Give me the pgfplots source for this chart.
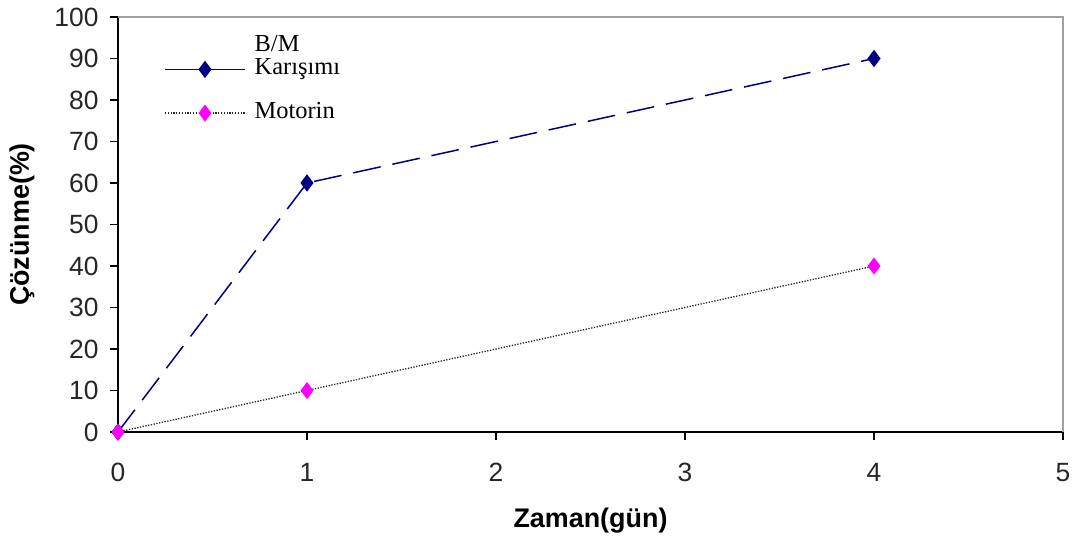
\documentclass[border=0pt]{standalone}
\usepackage{fontspec}
\setmainfont{Liberation Serif}
\setsansfont{Liberation Sans}
\usepackage{pgfplots}
\pgfplotsset{compat=1.18}
\definecolor{navyblue}{RGB}{0,0,128}
\definecolor{fuchsia}{RGB}{255,0,255}
\definecolor{framegray}{RGB}{160,160,160}

\begin{document}
\begin{tikzpicture}
\begin{axis}[
  scale only axis, width=945bp, height=415bp,
  xmin=0, xmax=5, ymin=0, ymax=100,
  xtick={0,1,2,3,4,5}, ytick={0,10,...,100},
  axis x line*=bottom, axis y line*=left,
  axis line style={black, line width=1.5bp},
  tick align=outside, major tick length=8bp,
  tick style={black, line width=1.2bp},
  /pgf/number format/assume math mode=true,
  every tick label/.append style={font=\sffamily\fontsize{26.5}{30}\selectfont, text=black!85},
  xticklabel style={yshift=-20bp},
  yticklabel style={xshift=-8bp},
  xlabel={Zaman(gün)}, ylabel={Çözünme(\%)},
  label style={font=\sffamily\bfseries\fontsize{27}{32}\selectfont},
  xlabel style={at={(axis description cs:0.5,-0.2145)}, anchor=center},
  ylabel style={at={(axis description cs:-0.1016,0.5)}, anchor=center},
  clip=false,
  legend style={at={(axis description cs:0.0487,0.96)}, anchor=north west,
    draw=none, fill=none, inner sep=0pt,
    font=\rmfamily\fontsize{24.5}{22}\selectfont,
    cells={anchor=base west}, row sep=22bp, column sep=7bp},
  legend image code/.code={\draw[mark repeat=2,mark phase=2,#1] plot coordinates {(0bp,5bp) (40bp,5bp) (80bp,5bp)};},
]
% grey frame on the top and right sides
\draw[framegray, line width=2bp] (rel axis cs:0,1) -- (rel axis cs:1,1) -- (rel axis cs:1,0);

\addlegendimage{navyblue, solid, line width=1.5bp, mark=diamond*, mark size=7.5bp}
\addlegendentry{\begin{tabular}[b]{@{}l@{}}B/M\\Karışımı\end{tabular}}
\addlegendimage{black!85, line width=1.3bp, dash pattern=on 1.3bp off 1.5bp, mark=diamond*, mark size=7.5bp, mark options={solid, draw=fuchsia, fill=fuchsia}}
\addlegendentry{Motorin}

% B/M mixture
\addplot[navyblue, line width=1.5bp, dash pattern=on 28bp off 12bp,
  mark=diamond*, mark size=7.5bp, mark options={solid}, forget plot]
  coordinates {(0,0) (1,60) (4,90)};
% diesel
\addplot[black!85, line width=1.3bp, dash pattern=on 1.3bp off 1.5bp,
  mark=diamond*, mark size=7.5bp, mark options={solid, draw=fuchsia, fill=fuchsia}, forget plot]
  coordinates {(0,0) (1,10) (4,40)};
\end{axis}
\pgfresetboundingbox
\path[use as bounding box] ([shift={(-118bp,-109bp)}]current axis.south west) rectangle ([shift={(14bp,17bp)}]current axis.north east);
\end{tikzpicture}
\end{document}
